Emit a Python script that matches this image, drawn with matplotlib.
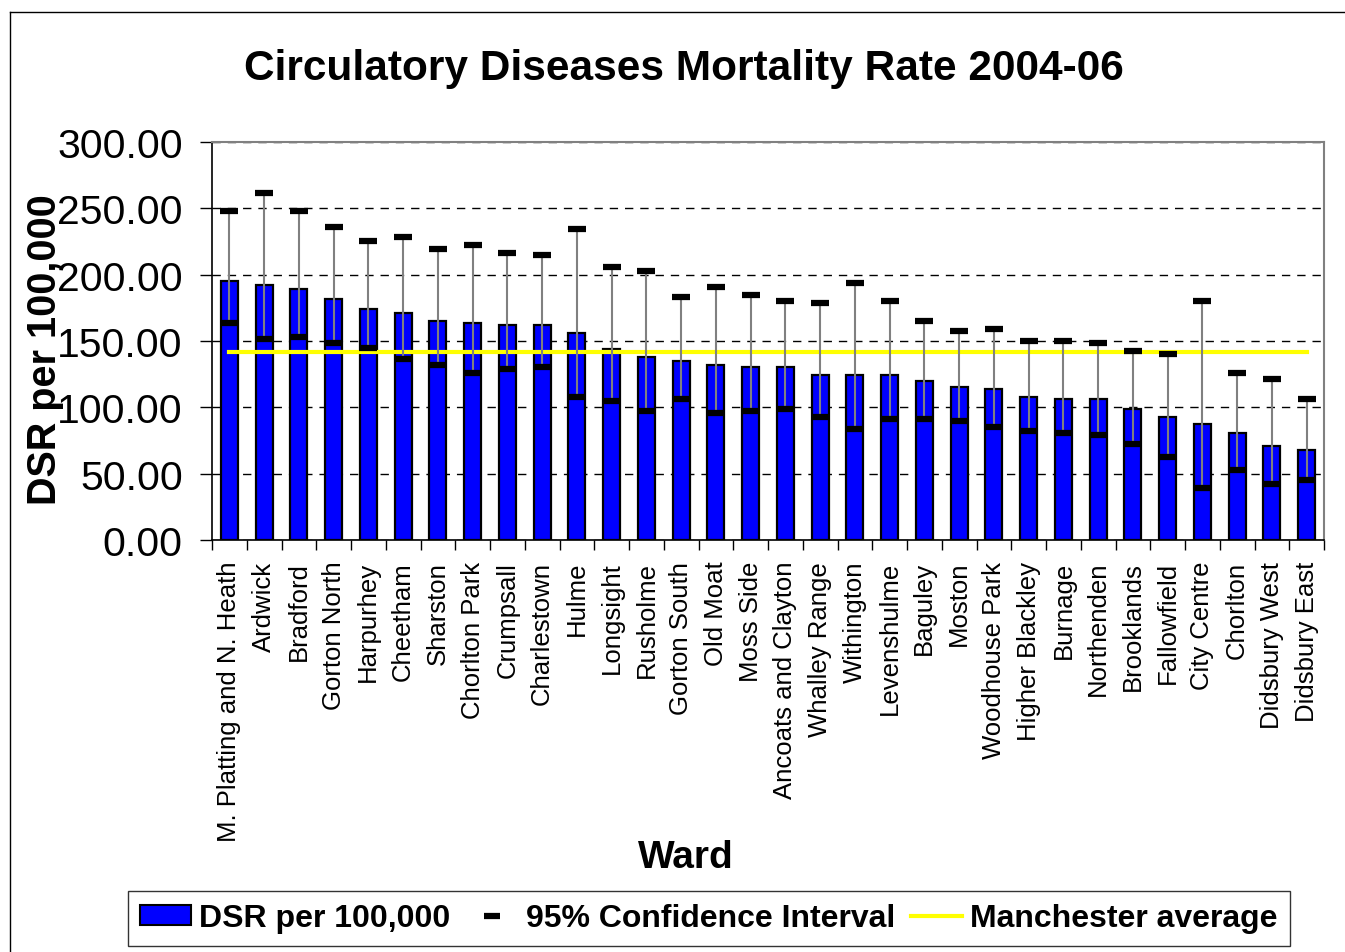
import numpy as np
import matplotlib.pyplot as plt
from matplotlib.lines import Line2D
from matplotlib.patches import Patch

plt.rcParams['font.family'] = ['Liberation Sans', 'DejaVu Sans']

wards = ['M. Platting and N. Heath', 'Ardwick', 'Bradford', 'Gorton North',
         'Harpurhey', 'Cheetham', 'Sharston', 'Chorlton Park', 'Crumpsall',
         'Charlestown', 'Hulme', 'Longsight', 'Rusholme', 'Gorton South',
         'Old Moat', 'Moss Side', 'Ancoats and Clayton', 'Whalley Range',
         'Withington', 'Levenshulme', 'Baguley', 'Moston', 'Woodhouse Park',
         'Higher Blackley', 'Burnage', 'Northenden', 'Brooklands',
         'Fallowfield', 'City Centre', 'Chorlton', 'Didsbury West',
         'Didsbury East']
dsr = [194.9, 192.1, 189.0, 181.3, 174.0, 170.9, 164.9, 163.4, 161.9, 161.9,
       155.8, 144.0, 137.7, 134.7, 131.6, 130.1, 130.1, 124.1, 124.1, 124.1,
       119.6, 115.0, 113.5, 107.5, 106.0, 106.0, 98.4, 92.4, 87.8, 80.3,
       71.2, 68.2]
ci_upper = [248.0, 261.6, 248.0, 235.9, 225.3, 228.3, 219.3, 222.3, 216.2,
            214.7, 234.4, 205.7, 202.6, 183.0, 190.7, 184.6, 180.0, 178.5,
            193.6, 180.0, 165.0, 157.4, 158.9, 149.8, 149.8, 148.3, 142.2,
            140.0, 180.0, 125.6, 121.1, 106.0]
ci_lower = [163.4, 151.3, 152.8, 148.3, 144.7, 136.2, 131.6, 125.6, 128.6,
            130.2, 107.5, 104.5, 96.9, 106.0, 95.4, 96.9, 98.4, 92.4, 83.3,
            90.9, 90.9, 89.4, 84.8, 81.8, 80.3, 78.8, 72.7, 62.2, 39.5, 53.1,
            42.5, 45.5]
manchester_avg = 142.0

fig = plt.figure(figsize=(13.45, 9.53), dpi=100)
ax = fig.add_axes([212 / 1345, 1 - 541 / 953, 1112 / 1345, 398 / 953])

x = np.arange(len(wards))
ax.bar(x, dsr, width=0.49, color='#0000FF', edgecolor='black',
       linewidth=1.6, zorder=2)
ax.plot(x, [manchester_avg] * len(x), color='#FFFF00', linewidth=3, zorder=3)
ax.vlines(x, ci_lower, ci_upper, color='#808080', linewidth=1.5, zorder=4)
ax.plot(x, ci_upper, linestyle='none', marker='_', color='black',
        markersize=13, markeredgewidth=4.5, zorder=5)
ax.plot(x, ci_lower, linestyle='none', marker='_', color='black',
        markersize=13, markeredgewidth=4.5, zorder=5)

ax.set_xlim(-0.5, len(wards) - 0.5)
ax.set_ylim(0, 300)
ax.set_yticks(np.arange(0, 301, 50))
ax.set_yticklabels(['%.2f' % v for v in np.arange(0, 301, 50)], fontsize=29.5)
ax.yaxis.grid(True, linestyle=(0, (6, 5)), color='black', linewidth=1)
ax.set_axisbelow(True)
ax.tick_params(axis='y', direction='out', length=9, width=1, pad=12)

ax.set_xticks(x)
ax.set_xticklabels(wards, rotation=90, fontsize=18.5)
ax.set_xticks(np.arange(-0.5, len(wards)), minor=True)
ax.tick_params(axis='x', which='major', length=0, pad=15)
ax.tick_params(axis='x', which='minor', direction='out', length=7, width=1)

for side in ['top', 'right']:
    ax.spines[side].set_color('#808080')
    ax.spines[side].set_linewidth(1.5)
for side in ['left', 'bottom']:
    ax.spines[side].set_color('black')
    ax.spines[side].set_linewidth(1.2)

fig.text(684 / 1345, 1 - 69 / 953, 'Circulatory Diseases Mortality Rate 2004-06',
         ha='center', va='center', fontsize=30.5, fontweight='bold')
fig.text(45 / 1345, 1 - 350 / 953, 'DSR per 100,000', rotation=90,
         ha='center', va='center', fontsize=28.5, fontweight='bold')
fig.text(686 / 1345, 1 - 858 / 953, 'Ward', ha='center', va='center',
         fontsize=28, fontweight='bold')

handles = [Patch(facecolor='#0000FF', edgecolor='black', linewidth=1.5),
           Line2D([], [], linestyle='none', marker='_', color='black',
                  markersize=12, markeredgewidth=4.5),
           Line2D([], [], color='#FFFF00', linewidth=3)]
labels = ['DSR per 100,000', '95% Confidence Interval', 'Manchester average']
leg = fig.legend(handles, labels, loc='center', ncol=3,
                 bbox_to_anchor=(709 / 1345, 1 - 919.5 / 953),
                 prop={'size': 23, 'weight': 'bold'}, frameon=True,
                 fancybox=False, edgecolor='black', handlelength=1.6,
                 handleheight=0.6, handletextpad=0.25, columnspacing=0.5,
                 borderpad=0.4, borderaxespad=0)
leg.get_frame().set_linewidth(1)

fig.add_artist(Line2D([10 / 1345, 1], [1 - 13 / 953, 1 - 13 / 953],
                      color='black', linewidth=1, transform=fig.transFigure))
fig.add_artist(Line2D([10 / 1345, 10 / 1345], [0, 1 - 13 / 953],
                      color='black', linewidth=1, transform=fig.transFigure))

fig.savefig('out.png', dpi=100)
